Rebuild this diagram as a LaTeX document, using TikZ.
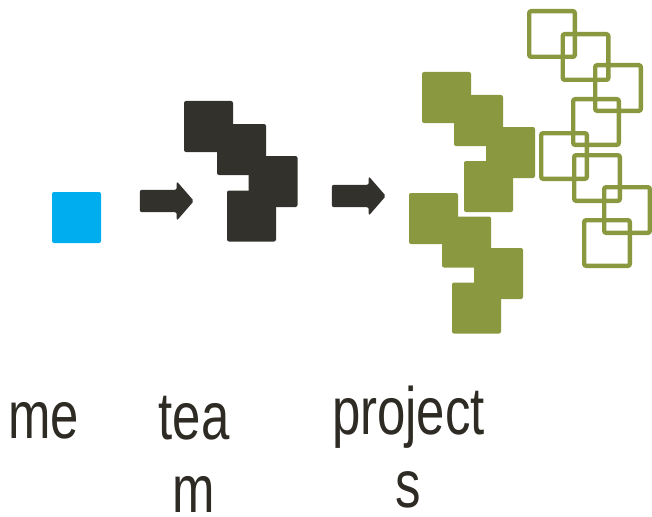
\documentclass[tikz,border=0pt]{standalone}
\usepackage{fontspec}
\newfontfamily\wordfont[FakeStretch=0.76]{Liberation Sans}
\usetikzlibrary{shapes.arrows}
\definecolor{meblue}{HTML}{00AEEF}
\definecolor{teamgrey}{HTML}{33312C}
\definecolor{projgreen}{HTML}{8A983F}
\definecolor{wordcol}{HTML}{2E2B24}

\begin{document}
\begin{tikzpicture}[x=1pt, y=-1pt,
    block/.style={rounded corners=2pt, inner sep=0pt, minimum width=49pt, minimum height=51pt},
    ring/.style={draw=projgreen, line width=4.3pt, rounded corners=2pt, inner sep=0pt, minimum size=45.7pt},
    push/.style={single arrow, fill=teamgrey, rounded corners=2pt, inner xsep=0pt, inner ysep=11pt,
        minimum height=54pt, minimum width=39pt,
        single arrow head extend=8.5pt, single arrow head indent=0pt, single arrow tip angle=98},
    word/.style={font=\wordfont\fontsize{67}{73}\selectfont, text=wordcol, align=center, anchor=base, inner sep=0pt}]
    \useasboundingbox (0,0) rectangle (652,516);

    \node[block, fill=meblue] (me) at (76.5,217.5) {};

    \node[push] (arr1) at (162,201) {};

    \node[block, fill=teamgrey] (t1) at (208.5,126.5) {};
    \node[block, fill=teamgrey] (t2) at (241.5,149.5) {};
    \node[block, fill=teamgrey] (t3) at (273,181.5) {};
    \node[block, fill=teamgrey] (t4) at (251.5,216) {};

    \node[push] (arr2) at (354,196) {};

    \node[block, fill=projgreen] (g1) at (446.5,97.5) {};
    \node[block, fill=projgreen] (g2) at (478.5,120.5) {};
    \node[block, fill=projgreen] (g3) at (510.5,152.5) {};
    \node[block, fill=projgreen] (g4) at (488.5,186.5) {};
    \node[block, fill=projgreen] (g5) at (433.5,218.5) {};
    \node[block, fill=projgreen] (g6) at (466.5,242) {};
    \node[block, fill=projgreen] (g7) at (498.5,273.5) {};
    \node[block, fill=projgreen] (g8) at (476.5,308) {};

    \node[ring] (r1) at (552,34) {};
    \node[ring] (r2) at (585.5,57) {};
    \node[ring] (r3) at (618,88) {};
    \node[ring] (r4) at (596,122) {};
    \node[ring] (r5) at (564,156) {};
    \node[ring] (r6) at (597,178) {};
    \node[ring] (r7) at (627,210) {};
    \node[ring] (r8) at (607,243) {};

    \node[word] (lme) at (43.5,438) {me};
    \node[word] (lteam) at (194,512) {tea\\m};
    \node[word] (lproj) at (408.5,507) {project\\s};
\end{tikzpicture}
\end{document}
